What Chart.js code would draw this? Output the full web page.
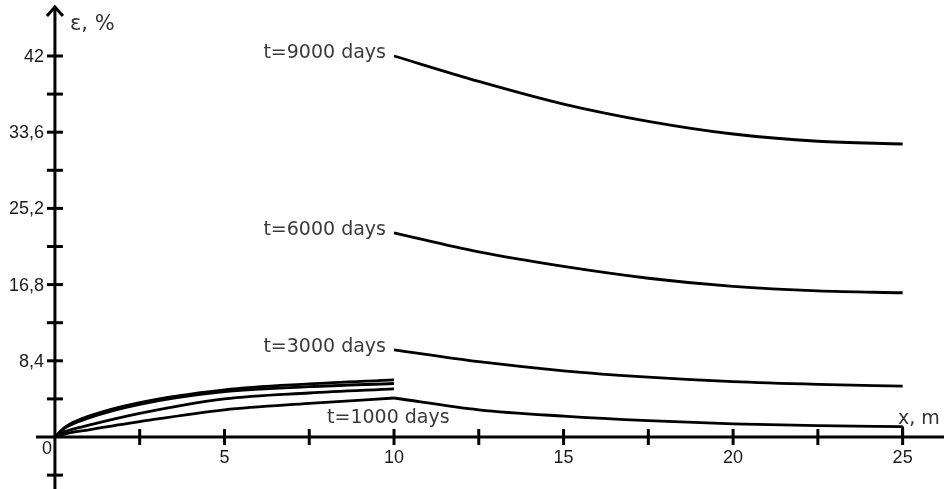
<!DOCTYPE html>
<html>
<head>
<meta charset="utf-8">
<script src="https://cdn.jsdelivr.net/npm/chart.js@4/dist/chart.umd.min.js"></script>
<style>
html,body{margin:0;padding:0;background:#fff;}
#wrap{width:944px;height:489px;position:relative;}
</style>
</head>
<body>
<div id="wrap"><canvas id="c" width="944" height="489"></canvas></div>
<script>
// ---- data ----
const xLeft = [0, 0.3, 1, 2.5, 5, 7.5, 10];
const eps9000Left = [0, 1.1, 2.3, 3.8, 5.2, 5.85, 6.3];
const eps6000Left = [0, 1.0, 2.1, 3.6, 5.0, 5.55, 5.9];
const eps3000Left = [0, 0.6, 1.3, 2.6, 4.2, 4.85, 5.3];
const eps1000Left = [0, 0.35, 0.8, 1.7, 3.0, 3.7, 4.3];

const xRight = [10, 12.5, 15, 17.5, 20, 22.5, 25];
const eps9000Right = [42.0, 39.2, 36.7, 34.8, 33.4, 32.6, 32.3];
const eps6000Right = [22.5, 20.4, 18.8, 17.5, 16.6, 16.1, 15.9];
const eps3000Right = [9.6, 8.3, 7.3, 6.6, 6.1, 5.8, 5.6];
const eps1000Right = [4.3, 3.0, 2.3, 1.8, 1.45, 1.25, 1.15];

const curveLabels = ['t=9000 days', 't=6000 days', 't=3000 days', 't=1000 days'];
const xTickValues = [2.5, 5, 7.5, 10, 12.5, 15, 17.5, 20, 22.5, 25];
const xTickLabels = ['', '5', '', '10', '', '15', '', '20', '', '25'];
const yTickValues = [-4.2, 4.2, 8.4, 12.6, 16.8, 21, 25.2, 29.4, 33.6, 37.8, 42];
const yTickLabels = ['', '', '8,4', '', '16,8', '', '25,2', '', '33,6', '', '42'];
const yAxisTitle = 'ε, %';
const xAxisTitle = 'x, m';

function pts(xs, ys){ return xs.map((x,i)=>({x:x, y:ys[i]})); }

const lineStyle = {borderColor:'#000', borderWidth:2.8, pointRadius:0, showLine:true, fill:false,
  cubicInterpolationMode:'monotone'};

const last1000 = eps1000Right[eps1000Right.length-1];
const lastX = xRight[xRight.length-1];

const datasets = [
  Object.assign({label:'9000L', data:pts(xLeft, eps9000Left)}, lineStyle),
  Object.assign({label:'6000L', data:pts(xLeft, eps6000Left)}, lineStyle),
  Object.assign({label:'3000L', data:pts(xLeft, eps3000Left)}, lineStyle),
  Object.assign({label:'1000L', data:pts(xLeft, eps1000Left)}, lineStyle),
  Object.assign({label:'9000R', data:pts(xRight, eps9000Right)}, lineStyle),
  Object.assign({label:'6000R', data:pts(xRight, eps6000Right)}, lineStyle),
  Object.assign({label:'3000R', data:pts(xRight, eps3000Right)}, lineStyle),
  Object.assign({label:'1000R', data:pts(xRight, eps1000Right)}, lineStyle),
  Object.assign({label:'1000drop', data:[{x:lastX,y:last1000},{x:lastX,y:0}]}, lineStyle, {cubicInterpolationMode:'default', tension:0})
];

const axesPlugin = {
  id:'axesPlugin',
  afterDatasetsDraw(chart){
    const ctx = chart.ctx;
    const xs = chart.scales.x, ys = chart.scales.y;
    const x0 = xs.getPixelForValue(0), y0 = ys.getPixelForValue(0);
    ctx.save();
    ctx.strokeStyle = '#000';
    ctx.lineWidth = 3;
    ctx.lineCap = 'butt';
    // x axis
    ctx.beginPath(); ctx.moveTo(36, y0); ctx.lineTo(944, y0); ctx.stroke();
    // y axis
    ctx.beginPath(); ctx.moveTo(x0, 489); ctx.lineTo(x0, 8); ctx.stroke();
    // arrow
    ctx.beginPath(); ctx.moveTo(x0-8, 16); ctx.lineTo(x0, 7); ctx.lineTo(x0+8, 16); ctx.stroke();
    // ticks
    xTickValues.forEach(v=>{ const p = xs.getPixelForValue(v); ctx.beginPath(); ctx.moveTo(p, y0-8); ctx.lineTo(p, y0+8); ctx.stroke(); });
    yTickValues.forEach(v=>{ const p = ys.getPixelForValue(v); ctx.beginPath(); ctx.moveTo(x0-8, p); ctx.lineTo(x0+8, p); ctx.stroke(); });
    // tick labels
    ctx.fillStyle = '#1a1a1a';
    ctx.font = '18px "Liberation Sans", Arial, sans-serif';
    ctx.textAlign = 'center'; ctx.textBaseline = 'middle';
    xTickValues.forEach((v,i)=>{ if(xTickLabels[i]) ctx.fillText(xTickLabels[i], xs.getPixelForValue(v), y0+21); });
    ctx.textAlign = 'right';
    yTickValues.forEach((v,i)=>{ if(yTickLabels[i]) ctx.fillText(yTickLabels[i], x0-11, ys.getPixelForValue(v)+1); });
    ctx.textAlign = 'center';
    ctx.fillText('0', x0-8, y0+12);
    // axis titles
    ctx.fillStyle = '#333';
    ctx.font = '21px "DejaVu Sans", sans-serif';
    ctx.textAlign = 'left';
    ctx.fillText(yAxisTitle, x0+15, 25);
    ctx.font = '19px "DejaVu Sans", sans-serif';
    ctx.fillText(xAxisTitle, 898, y0-18);
    // curve labels
    ctx.font = '19px "DejaVu Sans", sans-serif';
    ctx.fillStyle = '#3a3a3a';
    ctx.textAlign = 'right';
    const starts = [eps9000Right[0], eps6000Right[0], eps3000Right[0]];
    starts.forEach((v,i)=>{
      ctx.fillText(curveLabels[i], xs.getPixelForValue(xRight[0])-8, ys.getPixelForValue(v)-3);
    });
    ctx.textAlign = 'left';
    ctx.fillText(curveLabels[3], xs.getPixelForValue(xRight[0])-67, ys.getPixelForValue(eps1000Right[0])+20);
    ctx.restore();
  }
};

new Chart(document.getElementById('c'), {
  type:'scatter',
  data:{datasets:datasets},
  options:{
    responsive:false,
    animation:false,
    devicePixelRatio:1,
    layout:{padding:0},
    plugins:{legend:{display:false}, tooltip:{enabled:false}},
    scales:{
      x:{type:'linear', min:-1.62, max:26.22, display:false},
      y:{type:'linear', min:-5.73, max:48.17, display:false}
    }
  },
  plugins:[axesPlugin]
});
</script>
</body>
</html>
